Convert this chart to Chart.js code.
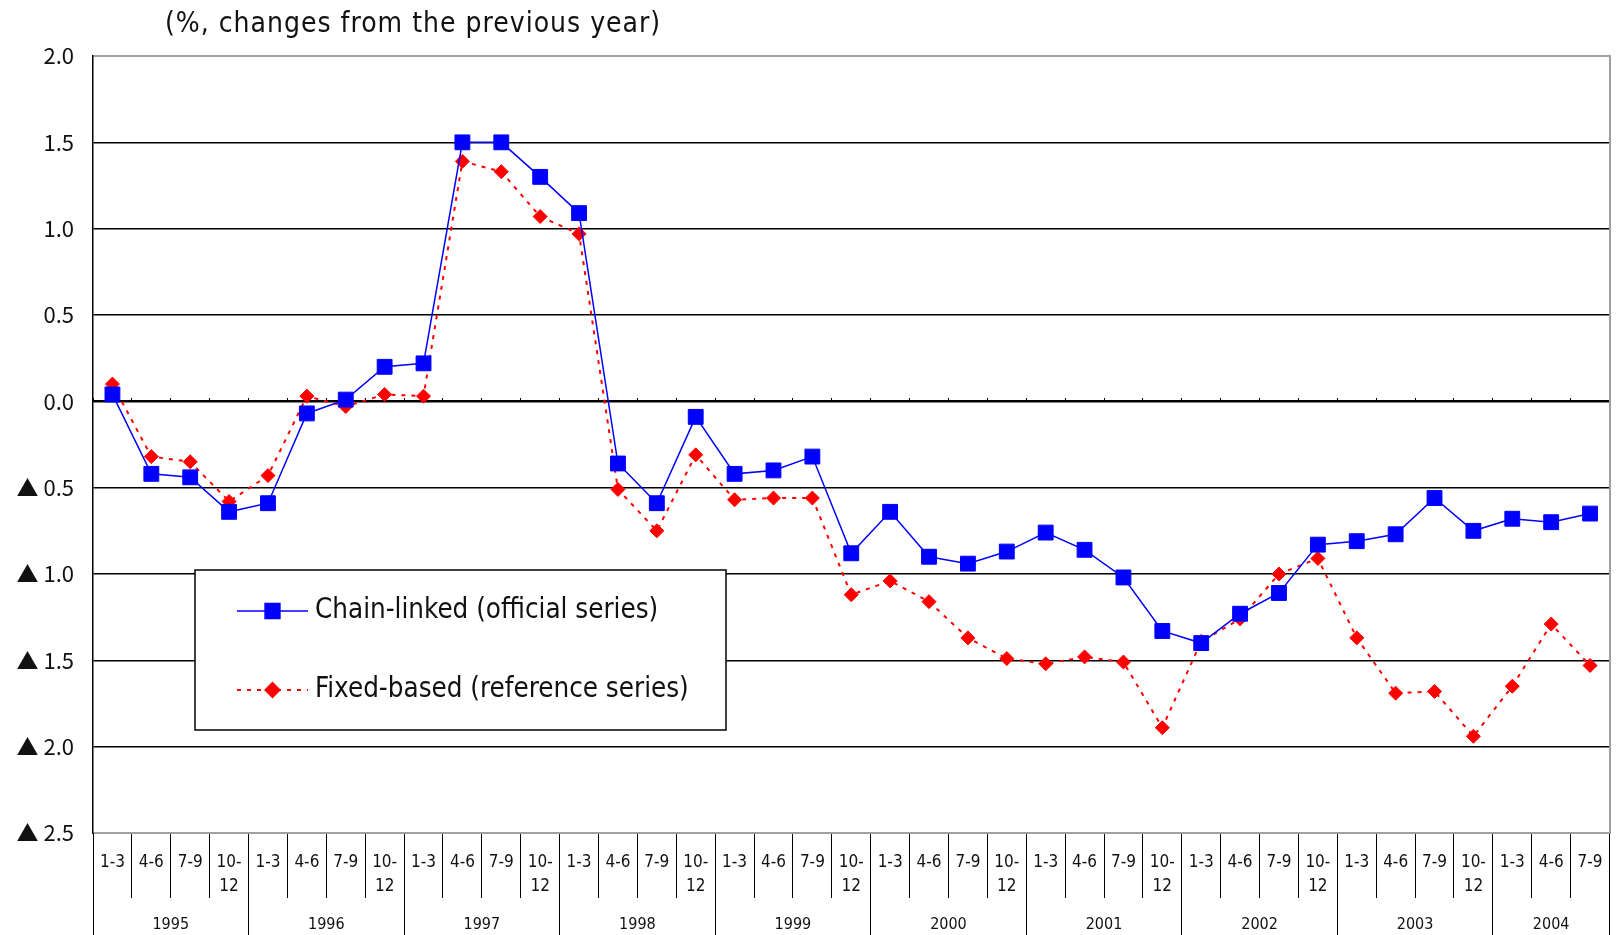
<!DOCTYPE html>
<html>
<head>
<meta charset="utf-8">
<script src="https://cdn.jsdelivr.net/npm/chart.js@4/dist/chart.umd.min.js"></script>
<style>
  html, body { margin: 0; padding: 0; background: #ffffff; }
  #wrap { position: relative; width: 1621px; height: 935px; }
</style>
</head>
<body>
<div id="wrap"><canvas id="chart"></canvas></div>
<script>
// ---- data -------------------------------------------------------------
const years = ['1995', '1996', '1997', '1998', '1999', '2000', '2001', '2002', '2003', '2004'];
const quarterLabels = ['1-3', '4-6', '7-9', ['10-', '12']];
const quartersPerYear = [4, 4, 4, 4, 4, 4, 4, 4, 4, 3];

const chainLinked = [
   0.04, -0.42, -0.44, -0.64,
  -0.59, -0.07,  0.01,  0.20,
   0.22,  1.50,  1.50,  1.30,
   1.09, -0.36, -0.59, -0.09,
  -0.42, -0.40, -0.32, -0.88,
  -0.64, -0.90, -0.94, -0.87,
  -0.76, -0.86, -1.02, -1.33,
  -1.40, -1.23, -1.11, -0.83,
  -0.81, -0.77, -0.56, -0.75,
  -0.68, -0.70, -0.65
];
const fixedBased = [
   0.10, -0.32, -0.35, -0.58,
  -0.43,  0.03, -0.03,  0.04,
   0.03,  1.39,  1.33,  1.07,
   0.97, -0.51, -0.75, -0.31,
  -0.57, -0.56, -0.56, -1.12,
  -1.04, -1.16, -1.37, -1.49,
  -1.52, -1.48, -1.51, -1.89,
  -1.39, -1.26, -1.00, -0.91,
  -1.37, -1.69, -1.68, -1.94,
  -1.65, -1.29, -1.53
];
const seriesNames = ['Chain-linked (official series)', 'Fixed-based (reference series)'];
const unitLabel = '(%, changes from the previous year)';

// ---- derived tables ---------------------------------------------------
const categories = [];
const yearStart = [];
years.forEach((y, i) => {
  yearStart.push(categories.length);
  for (let q = 0; q < quartersPerYear[i]; q++) categories.push(quarterLabels[q]);
});
const yearBounds = yearStart.concat([categories.length]);
const yearMids = yearStart.map((s, i) => s + quartersPerYear[i] / 2);

const COND = "'DejaVu Sans Condensed', sans-serif";
const GOTHIC = "'Noto Sans CJK JP', 'DejaVu Sans Condensed', sans-serif";
const BLUE = '#0000ff';
const RED = '#ff0000';

// ---- plugins ----------------------------------------------------------
const unitTitle = {
  id: 'unitTitle',
  afterDraw(chart) {
    const ctx = chart.ctx;
    ctx.save();
    ctx.font = '28px ' + COND;
    ctx.letterSpacing = '1px';
    ctx.fillStyle = '#111';
    ctx.textAlign = 'left';
    ctx.textBaseline = 'middle';
    ctx.fillText(unitLabel, 165, 25);
    ctx.restore();
  }
};

const boxedLegend = {
  id: 'boxedLegend',
  beforeDatasetsDraw(chart, args, opts) {
    const ctx = chart.ctx;
    const b = opts.box;
    ctx.save();
    ctx.fillStyle = '#ffffff';
    ctx.fillRect(b.left, b.top, b.right - b.left, b.bottom - b.top);
    ctx.strokeStyle = '#000';
    ctx.lineWidth = 1.5;
    ctx.strokeRect(b.left, b.top, b.right - b.left, b.bottom - b.top);
    chart.data.datasets.forEach((ds, i) => {
      const y = opts.rows[i];
      ctx.strokeStyle = ds.borderColor;
      ctx.lineWidth = ds.borderWidth;
      ctx.setLineDash(ds.borderDash || []);
      ctx.beginPath();
      ctx.moveTo(opts.lineFrom, y);
      ctx.lineTo(opts.lineTo, y);
      ctx.stroke();
      ctx.setLineDash([]);
      ctx.fillStyle = ds.pointBackgroundColor;
      ctx.strokeStyle = ds.pointBorderColor;
      Chart.helpers.drawPoint(ctx, {
        pointStyle: ds.pointStyle, radius: ds.pointRadius, borderWidth: ds.pointBorderWidth, rotation: 0
      }, (opts.lineFrom + opts.lineTo) / 2, y);
      ctx.fillStyle = '#111';
      ctx.font = opts.fontSize + 'px ' + COND;
      ctx.textAlign = 'left';
      ctx.textBaseline = 'middle';
      ctx.fillText(ds.label, opts.textX, y);
    });
    ctx.restore();
  }
};

// ---- chart ------------------------------------------------------------
new Chart(document.getElementById('chart'), {
  type: 'line',
  data: {
    labels: categories,
    datasets: [
      {
        label: seriesNames[0],
        data: chainLinked,
        borderColor: BLUE,
        backgroundColor: BLUE,
        borderWidth: 1.5,
        pointStyle: 'rect',
        pointRadius: 10.5,
        pointBackgroundColor: BLUE,
        pointBorderColor: BLUE,
        pointBorderWidth: 1,
        tension: 0
      },
      {
        label: seriesNames[1],
        data: fixedBased,
        borderColor: RED,
        backgroundColor: RED,
        borderWidth: 2,
        borderDash: [4, 6],
        pointStyle: 'rectRot',
        pointRadius: 7,
        pointBackgroundColor: RED,
        pointBorderColor: RED,
        pointBorderWidth: 1,
        tension: 0
      }
    ]
  },
  options: {
    responsive: true,
    maintainAspectRatio: false,
    animation: false,
    events: [],
    layout: { padding: { top: 56, right: 11, left: 0, bottom: 0 } },
    plugins: {
      legend: { display: false },
      tooltip: { enabled: false },
      title: { display: false },
      boxedLegend: {
        box: { left: 195, top: 570, right: 726, bottom: 730 },
        rows: [611, 690],
        lineFrom: 237, lineTo: 308, textX: 315, fontSize: 27.5
      }
    },
    scales: {
      x: {
        type: 'category',
        position: 'bottom',
        offset: true,
        grid: { offset: true, drawOnChartArea: false, drawTicks: true, tickLength: 65, color: '#000', lineWidth: 1 },
        border: { display: false },
        ticks: {
          autoSkip: false, maxRotation: 0, minRotation: 0, padding: -47,
          color: '#111', font: { family: COND, size: 17, lineHeight: 1.412 }
        },
        afterFit: (s) => { s.height = 65; }
      },
      x2: {
        type: 'linear',
        position: 'bottom',
        min: 0,
        max: categories.length,
        afterBuildTicks: (s) => {
          s.ticks = yearBounds.concat(yearMids).sort((a, b) => a - b).map(v => ({ value: v }));
        },
        grid: {
          drawOnChartArea: false, drawTicks: true, tickLength: 37, lineWidth: 1,
          color: (c) => (c.tick && yearBounds.includes(c.tick.value)) ? '#000' : 'rgba(0,0,0,0)'
        },
        border: { display: false },
        ticks: {
          autoSkip: false, maxRotation: 0, minRotation: 0, padding: -20,
          color: '#111', font: { family: COND, size: 16 },
          callback: (v) => { const k = yearMids.indexOf(v); return k >= 0 ? years[k] : ''; }
        },
        afterFit: (s) => { s.height = 37; }
      },
      xZero: {
        type: 'category',
        position: { y: 0 },
        offset: true,
        grid: { offset: true, drawOnChartArea: false, drawTicks: true, tickLength: -4, color: '#000', lineWidth: 1 },
        border: { display: true, color: '#000', width: 2 },
        ticks: { display: false }
      },
      y: {
        type: 'linear',
        position: 'left',
        min: -2.5,
        max: 2.0,
        ticks: {
          stepSize: 0.5, padding: 19, color: '#111',
          font: { family: GOTHIC, size: 22 },
          callback: (v) => v < 0 ? '\u25B2 ' + Math.abs(v).toFixed(1) : v.toFixed(1)
        },
        grid: {
          drawTicks: false,
          color: (c) => (c.tick && (c.tick.value === 2 || c.tick.value === -2.5)) ? '#a0a0a0' : '#000',
          lineWidth: (c) => (c.tick && (c.tick.value === 2 || c.tick.value === -2.5)) ? 2 : 1.5
        },
        border: { display: true, color: '#000', width: 1.5 },
        afterFit: (s) => { s.width = 93; }
      },
      yRight: {
        type: 'linear',
        position: 'right',
        min: -2.5,
        max: 2.0,
        ticks: { display: false },
        grid: { display: false, drawTicks: false },
        border: { display: true, color: '#a0a0a0', width: 2 }
      }
    }
  },
  plugins: [unitTitle, boxedLegend]
});
</script>
</body>
</html>
